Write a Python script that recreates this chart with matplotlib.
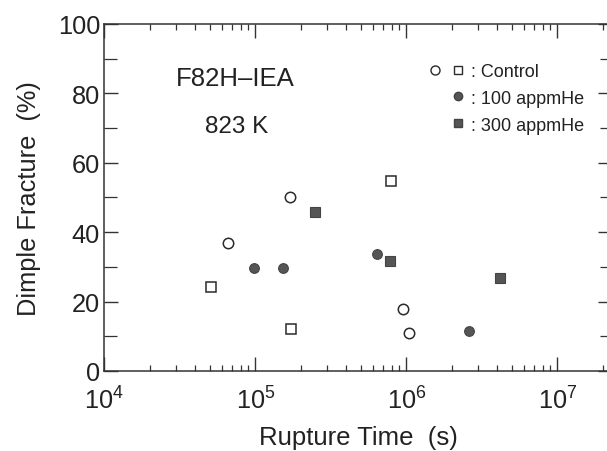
import numpy as np
import matplotlib
matplotlib.use("Agg")
import matplotlib.pyplot as plt
from matplotlib.legend_handler import HandlerTuple
from matplotlib.lines import Line2D
from matplotlib.ticker import FixedLocator, LogLocator, NullFormatter

plt.rcParams['font.family'] = ['Liberation Sans', 'DejaVu Sans']

# data
ctrl_circ_t = [6.6e4, 1.71e5, 9.5e5, 1.04e6]
ctrl_circ_d = [37, 50, 18, 11]
ctrl_sq_t = [5.1e4, 1.73e5, 7.9e5]
ctrl_sq_d = [24.3, 12.1, 54.8]
he100_t = [9.8e4, 1.53e5, 6.4e5, 2.6e6]
he100_d = [29.8, 29.8, 33.8, 11.6]
he300_t = [2.49e5, 7.75e5, 4.14e6]
he300_d = [45.7, 31.6, 26.9]

fig = plt.figure(figsize=(6.07, 4.52), dpi=100)
ax = fig.add_axes([0.1718, 0.177, 0.8364, 0.7677])

ec = '#2a2a2a'
fill = '#555555'
ax.plot(ctrl_circ_t, ctrl_circ_d, 'o', ms=7.5, mfc='white', mec=ec, mew=1.1, ls='none')
ax.plot(ctrl_sq_t, ctrl_sq_d, 's', ms=6.8, mfc='white', mec=ec, mew=1.1, ls='none')
ax.plot(he100_t, he100_d, 'o', ms=7, mfc=fill, mec='#444444', mew=0.8, ls='none')
ax.plot(he300_t, he300_d, 's', ms=7, mfc=fill, mec='#444444', mew=0.8, ls='none')

ax.set_xscale('log')
ax.set_xlim(1e4, 2.3e7)
ax.set_ylim(0, 100)
ax.set_yticks([0, 20, 40, 60, 80, 100])
ax.yaxis.set_minor_locator(FixedLocator([10, 30, 50, 70, 90]))
ax.xaxis.set_major_locator(LogLocator(base=10, numticks=10))
ax.xaxis.set_minor_locator(LogLocator(base=10, subs=np.arange(2, 10), numticks=20))
ax.xaxis.set_minor_formatter(NullFormatter())

ax.tick_params(which='both', direction='in', top=True, right=True, colors='#333333',
               labelcolor='#222222')
ax.tick_params(which='major', length=10, width=1.0, labelsize=18.3)
ax.tick_params(axis='x', which='minor', length=4.5, width=0.9)
ax.tick_params(axis='y', which='minor', length=9, width=0.9)
ax.tick_params(axis='x', which='major', pad=11)
ax.tick_params(axis='y', which='major', pad=3)
for s in ax.spines.values():
    s.set_color('#333333')
    s.set_linewidth(1.1)

ax.set_xlabel('Rupture Time  (s)', fontsize=18.5, color='#222222', labelpad=8.5)
ax.set_ylabel('Dimple Fracture  (%)', fontsize=18.3, color='#222222', labelpad=12)

ax.text(0.141, 0.824, 'F82H\u2013IEA', transform=ax.transAxes, fontsize=18.5, color='#222222')
ax.text(0.198, 0.689, '823 K', transform=ax.transAxes, fontsize=17.5, color='#222222')

blank = Line2D([], [], ls='none', marker='None')
h_c1 = Line2D([], [], ls='none', marker='o', ms=6.5, mfc='white', mec=ec, mew=1)
h_c2 = Line2D([], [], ls='none', marker='s', ms=5.8, mfc='white', mec=ec, mew=1)
h_1 = Line2D([], [], ls='none', marker='o', ms=6, mfc=fill, mec='#444444')
h_3 = Line2D([], [], ls='none', marker='s', ms=6, mfc=fill, mec='#444444')
leg = ax.legend([(h_c1, h_c2), (blank, h_1), (blank, h_3)],
                [': Control', ': 100 appmHe', ': 300 appmHe'],
                handler_map={tuple: HandlerTuple(ndivide=None, pad=0.5)},
                loc='upper left', bbox_to_anchor=(0.637, 0.888), frameon=False,
                fontsize=13, handlelength=2.1, handletextpad=0.28,
                labelspacing=0.55, borderpad=0, borderaxespad=0)
for t in leg.get_texts():
    t.set_color('#222222')

fig.savefig('out.png', dpi=100)
